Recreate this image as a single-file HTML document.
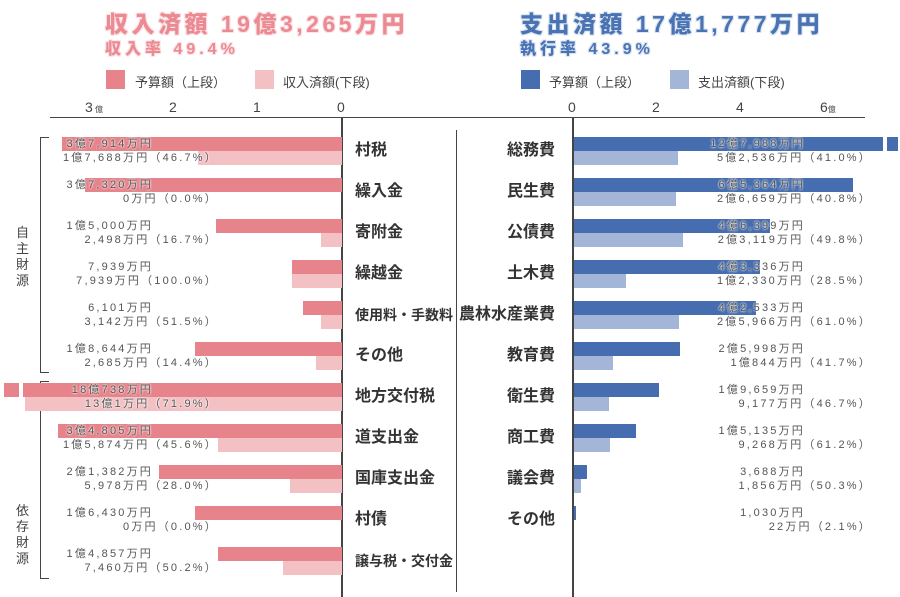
<!DOCTYPE html>
<html><head><meta charset="utf-8"><style>
body{margin:0;width:900px;height:597px;background:#fff;position:relative;overflow:hidden;font-family:"Liberation Sans","Noto Sans CJK JP",sans-serif;color:#444}
div{position:absolute}
.b{height:14px}
.dp{background:#e6838b}.lp{background:#f3c1c4}
.db{background:#456daf}.lb{background:#a3b6d8}
.t{font-size:11px;letter-spacing:2.2px;white-space:nowrap;color:#555;text-shadow:0 0 2px #fff,0 0 2px #fff;line-height:14px}
.tr{text-align:right}
.cat{font-size:16px;font-weight:bold;color:#333;white-space:nowrap;line-height:20px}
.h{font-weight:900;white-space:nowrap;letter-spacing:3.5px}
.hp{color:#eb8a92;text-shadow:-1px -1px 0 #fbe3e5,1px 1px 0 #fbe3e5,1px -1px 0 #fbe3e5,-1px 1px 0 #fbe3e5}
.hb{color:#4a73b4;text-shadow:-1px -1px 0 #dce5f3,1px 1px 0 #dce5f3,1px -1px 0 #dce5f3,-1px 1px 0 #dce5f3}
.lg{font-size:13px;color:#444;white-space:nowrap}
.tk{font-size:14px;color:#444}
</style></head><body>
<div class="h hp" style="left:105px;top:5px;font-size:23px">収入済額 19億3,265万円</div>
<div class="h hp" style="left:105px;top:35px;font-size:16px;letter-spacing:4px">収入率 49.4%</div>
<div class="h hb" style="left:520px;top:5px;font-size:23px">支出済額 17億1,777万円</div>
<div class="h hb" style="left:520px;top:35px;font-size:16px;letter-spacing:4px">執行率 43.9%</div>

<div class="dp" style="left:106px;top:70px;width:19px;height:19px"></div><div class="lg" style="left:135px;top:72px">予算額（上段）</div>
<div class="lp" style="left:255px;top:70px;width:19px;height:19px"></div><div class="lg" style="left:283px;top:72px">収入済額(下段)</div>
<div class="db" style="left:521px;top:70px;width:19px;height:19px"></div><div class="lg" style="left:549px;top:72px">予算額（上段）</div>
<div class="lb" style="left:670px;top:70px;width:19px;height:19px"></div><div class="lg" style="left:698px;top:72px">支出済額(下段)</div>

<div class="tk" style="left:85px;top:99px">3<span style="font-size:8px"> 億</span></div>
<div class="tk" style="left:169px;top:99px">2</div><div class="tk" style="left:253px;top:99px">1</div><div class="tk" style="left:337px;top:99px">0</div>
<div class="tk" style="left:568px;top:99px">0</div><div class="tk" style="left:652px;top:99px">2</div><div class="tk" style="left:736px;top:99px">4</div>
<div class="tk" style="left:820px;top:99px">6<span style="font-size:8px">億</span></div>

<div style="left:50px;top:117px;width:815px;height:1px;background:#444"></div>
<div style="left:341px;top:117px;width:2px;height:480px;background:#444"></div>
<div style="left:572px;top:117px;width:2px;height:480px;background:#444"></div>
<div style="left:456px;top:130px;width:1px;height:462px;background:#444"></div>

<div style="left:40px;top:137px;width:8px;height:234px;border:1px solid #444;border-right:none"></div>
<div style="left:40px;top:381px;width:8px;height:196px;border:1px solid #444;border-right:none"></div>
<div style="left:16px;top:225px;width:14px;font-size:13px;line-height:16px">自主財源</div>
<div style="left:16px;top:503px;width:14px;font-size:13px;line-height:16px">依存財源</div>

<div class="b dp" style="left:62px;top:137px;width:280px"></div><div class="b lp" style="left:198px;top:151px;width:144px"></div>
<div class="b dp" style="left:85px;top:178px;width:257px"></div>
<div class="b dp" style="left:216px;top:219px;width:126px"></div><div class="b lp" style="left:321px;top:233px;width:21px"></div>
<div class="b dp" style="left:292px;top:260px;width:50px"></div><div class="b lp" style="left:292px;top:274px;width:50px"></div>
<div class="b dp" style="left:303px;top:301px;width:39px"></div><div class="b lp" style="left:321px;top:315px;width:21px"></div>
<div class="b dp" style="left:195px;top:342px;width:147px"></div><div class="b lp" style="left:316px;top:356px;width:26px"></div>
<div class="b dp" style="left:4px;top:383px;width:338px"></div><div class="b lp" style="left:25px;top:397px;width:317px"></div>
<div style="left:19px;top:380px;width:4px;height:34px;background:#fff"></div>
<div class="b dp" style="left:58px;top:424px;width:284px"></div><div class="b lp" style="left:218px;top:438px;width:124px"></div>
<div class="b dp" style="left:159px;top:465px;width:183px"></div><div class="b lp" style="left:290px;top:479px;width:52px"></div>
<div class="b dp" style="left:195px;top:506px;width:147px"></div>
<div class="b dp" style="left:218px;top:547px;width:124px"></div><div class="b lp" style="left:283px;top:561px;width:59px"></div>

<div class="t tr" style="right:747px;top:137px">3億7,914万円</div><div class="t tr" style="right:682px;top:151px">1億7,688万円（46.7%）</div>
<div class="t tr" style="right:747px;top:178px">3億7,320万円</div><div class="t tr" style="right:682px;top:192px">0万円（0.0%）</div>
<div class="t tr" style="right:747px;top:219px">1億5,000万円</div><div class="t tr" style="right:682px;top:233px">2,498万円（16.7%）</div>
<div class="t tr" style="right:747px;top:260px">7,939万円</div><div class="t tr" style="right:682px;top:274px">7,939万円（100.0%）</div>
<div class="t tr" style="right:747px;top:301px">6,101万円</div><div class="t tr" style="right:682px;top:315px">3,142万円（51.5%）</div>
<div class="t tr" style="right:747px;top:342px">1億8,644万円</div><div class="t tr" style="right:682px;top:356px">2,685万円（14.4%）</div>
<div class="t tr" style="right:747px;top:383px">18億738万円</div><div class="t tr" style="right:682px;top:397px">13億1万円（71.9%）</div>
<div class="t tr" style="right:747px;top:424px">3億4,805万円</div><div class="t tr" style="right:682px;top:438px">1億5,874万円（45.6%）</div>
<div class="t tr" style="right:747px;top:465px">2億1,382万円</div><div class="t tr" style="right:682px;top:479px">5,978万円（28.0%）</div>
<div class="t tr" style="right:747px;top:506px">1億6,430万円</div><div class="t tr" style="right:682px;top:520px">0万円（0.0%）</div>
<div class="t tr" style="right:747px;top:547px">1億4,857万円</div><div class="t tr" style="right:682px;top:561px">7,460万円（50.2%）</div>

<div class="cat" style="left:355px;top:141px">村税</div>
<div class="cat" style="left:355px;top:182px">繰入金</div>
<div class="cat" style="left:355px;top:223px">寄附金</div>
<div class="cat" style="left:355px;top:264px">繰越金</div>
<div class="cat" style="left:355px;top:305px;font-size:14px">使用料・手数料</div>
<div class="cat" style="left:355px;top:346px">その他</div>
<div class="cat" style="left:355px;top:387px">地方交付税</div>
<div class="cat" style="left:355px;top:428px">道支出金</div>
<div class="cat" style="left:355px;top:469px">国庫支出金</div>
<div class="cat" style="left:355px;top:510px">村債</div>
<div class="cat" style="left:355px;top:551px;font-size:14px">譲与税・交付金</div>

<div class="cat tr" style="right:345px;top:141px">総務費</div>
<div class="cat tr" style="right:345px;top:182px">民生費</div>
<div class="cat tr" style="right:345px;top:223px">公債費</div>
<div class="cat tr" style="right:345px;top:264px">土木費</div>
<div class="cat tr" style="right:345px;top:305px">農林水産業費</div>
<div class="cat tr" style="right:345px;top:346px">教育費</div>
<div class="cat tr" style="right:345px;top:387px">衛生費</div>
<div class="cat tr" style="right:345px;top:428px">商工費</div>
<div class="cat tr" style="right:345px;top:469px">議会費</div>
<div class="cat tr" style="right:345px;top:510px">その他</div>

<div class="b db" style="left:574px;top:137px;width:324px"></div><div style="left:883px;top:134px;width:4px;height:22px;background:#fff"></div>
<div class="b lb" style="left:574px;top:151px;width:104px"></div>
<div class="b db" style="left:574px;top:178px;width:279px"></div><div class="b lb" style="left:574px;top:192px;width:102px"></div>
<div class="b db" style="left:574px;top:219px;width:196px"></div><div class="b lb" style="left:574px;top:233px;width:109px"></div>
<div class="b db" style="left:574px;top:260px;width:186px"></div><div class="b lb" style="left:574px;top:274px;width:52px"></div>
<div class="b db" style="left:574px;top:301px;width:182px"></div><div class="b lb" style="left:574px;top:315px;width:105px"></div>
<div class="b db" style="left:574px;top:342px;width:106px"></div><div class="b lb" style="left:574px;top:356px;width:39px"></div>
<div class="b db" style="left:574px;top:383px;width:85px"></div><div class="b lb" style="left:574px;top:397px;width:35px"></div>
<div class="b db" style="left:574px;top:424px;width:62px"></div><div class="b lb" style="left:574px;top:438px;width:36px"></div>
<div class="b db" style="left:574px;top:465px;width:13px"></div><div class="b lb" style="left:574px;top:479px;width:7px"></div>
<div class="b db" style="left:574px;top:506px;width:2px"></div>

<div class="t tr" style="right:95px;top:137px">12億7,988万円</div><div class="t tr" style="right:28px;top:151px">5億2,536万円（41.0%）</div>
<div class="t tr" style="right:95px;top:178px">6億5,364万円</div><div class="t tr" style="right:28px;top:192px">2億6,659万円（40.8%）</div>
<div class="t tr" style="right:95px;top:219px">4億6,399万円</div><div class="t tr" style="right:28px;top:233px">2億3,119万円（49.8%）</div>
<div class="t tr" style="right:95px;top:260px">4億3,336万円</div><div class="t tr" style="right:28px;top:274px">1億2,330万円（28.5%）</div>
<div class="t tr" style="right:95px;top:301px">4億2,533万円</div><div class="t tr" style="right:28px;top:315px">2億5,966万円（61.0%）</div>
<div class="t tr" style="right:95px;top:342px">2億5,998万円</div><div class="t tr" style="right:28px;top:356px">1億844万円（41.7%）</div>
<div class="t tr" style="right:95px;top:383px">1億9,659万円</div><div class="t tr" style="right:28px;top:397px">9,177万円（46.7%）</div>
<div class="t tr" style="right:95px;top:424px">1億5,135万円</div><div class="t tr" style="right:28px;top:438px">9,268万円（61.2%）</div>
<div class="t tr" style="right:95px;top:465px">3,688万円</div><div class="t tr" style="right:28px;top:479px">1,856万円（50.3%）</div>
<div class="t tr" style="right:95px;top:506px">1,030万円</div><div class="t tr" style="right:28px;top:520px">22万円（2.1%）</div>
</body></html>
